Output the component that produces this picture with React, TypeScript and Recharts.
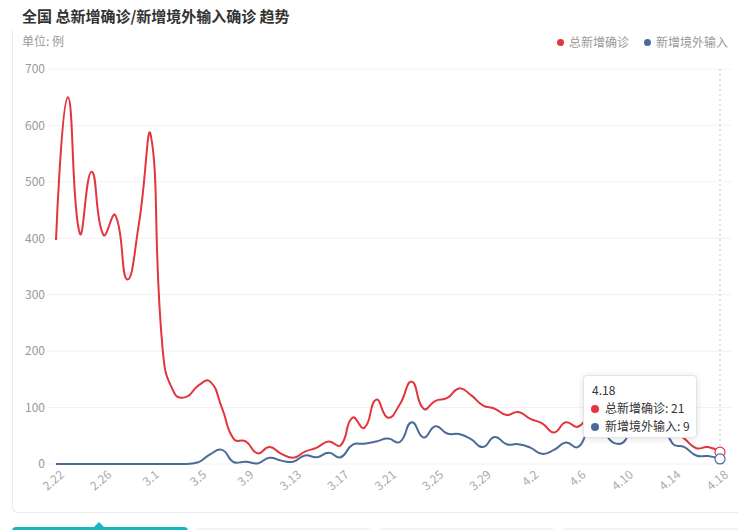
import React from 'react';
import { LineChart, Line, XAxis, YAxis, CartesianGrid, Tooltip } from 'recharts';

const FONT = '"Noto Sans CJK SC", "Noto Sans", sans-serif';
const RED = '#e2353d';
const BLUE = '#4a6b9a';

const dates = [
  '2.22', '2.23', '2.24', '2.25', '2.26', '2.27', '2.28', '2.29',
  '3.1', '3.2', '3.3', '3.4', '3.5', '3.6', '3.7', '3.8', '3.9', '3.10',
  '3.11', '3.12', '3.13', '3.14', '3.15', '3.16', '3.17', '3.18', '3.19', '3.20',
  '3.21', '3.22', '3.23', '3.24', '3.25', '3.26', '3.27', '3.28', '3.29', '3.30', '3.31',
  '4.1', '4.2', '4.3', '4.4', '4.5', '4.6', '4.7', '4.8', '4.9', '4.10',
  '4.11', '4.12', '4.13', '4.14', '4.15', '4.16', '4.17', '4.18',
];

const totalNew = [
  397, 650, 409, 518, 406, 441, 327, 427,
  582, 202, 125, 119, 139, 146, 99, 44, 40, 19,
  30, 18, 11, 22, 29, 40, 33, 82, 64, 114,
  82, 106, 146, 98, 112, 117, 134, 122, 104, 98, 87,
  92, 80, 72, 56, 74, 66, 85, 88, 70, 75,
  120, 130, 110, 62, 45, 28, 30, 21,
];

const importedNew = [
  0, 0, 0, 0, 0, 0, 0, 0,
  0, 0, 0, 0, 3, 17, 25, 3, 4, 1,
  11, 6, 4, 15, 12, 20, 12, 34, 36, 40,
  45, 39, 74, 47, 67, 54, 53, 44, 30, 48, 35,
  35, 29, 18, 25, 38, 30, 59, 61, 38, 42,
  97, 98, 86, 36, 30, 15, 14, 9,
];

const yTicks = [0, 100, 200, 300, 400, 500, 600, 700];

const rows = dates.map((date, i) => ({ date, total: totalNew[i], imported: importedNew[i] }));

// echarts 4 style smoothing (smooth: true -> 0.5, bbox constraint)
const echartsSmooth = (ctx: any) => {
  let pts: number[][] = [];
  const s = 0.5;
  return {
    areaStart() {},
    areaEnd() {},
    lineStart() {
      pts = [];
    },
    point(x: number, y: number) {
      pts.push([+x, +y]);
    },
    lineEnd() {
      const n = pts.length;
      if (!n) return;
      let minX = Infinity, minY = Infinity, maxX = -Infinity, maxY = -Infinity;
      pts.forEach(([x, y]) => {
        minX = Math.min(minX, x); maxX = Math.max(maxX, x);
        minY = Math.min(minY, y); maxY = Math.max(maxY, y);
      });
      const clamp = (p: number[]) => [
        Math.max(minX, Math.min(maxX, p[0])),
        Math.max(minY, Math.min(maxY, p[1])),
      ];
      ctx.moveTo(pts[0][0], pts[0][1]);
      let cp0 = [pts[0][0], pts[0][1]];
      let v = [0, 0];
      for (let i = 1; i < n; i++) {
        const p = pts[i];
        const prev = pts[i - 1];
        const next = pts[i + 1];
        let cp1 = [p[0], p[1]];
        let ratio = 0.5;
        if (next) {
          v = [next[0] - prev[0], next[1] - prev[1]];
          const d0 = Math.hypot(p[0] - prev[0], p[1] - prev[1]);
          const d1 = Math.hypot(next[0] - p[0], next[1] - p[1]);
          ratio = d0 + d1 > 0 ? d1 / (d0 + d1) : 0.5;
          cp1 = [p[0] - v[0] * s * (1 - ratio), p[1] - v[1] * s * (1 - ratio)];
        }
        const a = clamp(cp0);
        const b = clamp(cp1);
        ctx.bezierCurveTo(a[0], a[1], b[0], b[1], p[0], p[1]);
        cp0 = [p[0] + v[0] * s * ratio, p[1] + v[1] * s * ratio];
      }
    },
  };
};

const XTick = ({ x, payload }: any) => (
  <g transform={`translate(${x + 9},${476})`}>
    <text textAnchor="end" transform="rotate(-40)" fill="#aaa" fontSize={12} fontFamily={FONT}>
      {payload.value}
    </text>
  </g>
);

const Dot = ({ color }: { color: string }) => (
  <span
    style={{
      display: 'inline-block',
      width: 7,
      height: 7,
      borderRadius: '50%',
      background: color,
      marginRight: 5,
      verticalAlign: 'middle',
      position: 'relative',
      top: -1,
    }}
  />
);

const TipBox = ({ active, payload, label }: any) => {
  if (!active || !payload || !payload.length) return null;
  return (
    <div
      style={{
        width: 114,
        height: 63,
        boxSizing: 'border-box',
        background: '#fff',
        border: '1px solid #e4e4e4',
        borderRadius: 4,
        boxShadow: '0 1px 6px rgba(0,0,0,0.12)',
        padding: '5px 0 0 7px',
        fontSize: 12,
        lineHeight: '18px',
        color: '#333',
        fontFamily: FONT,
        whiteSpace: 'nowrap',
      }}
    >
      <div style={{ paddingLeft: 1 }}>{label}</div>
      {payload.map((p: any) => (
        <div key={p.dataKey}>
          <span
            style={{
              display: 'inline-block',
              width: 8,
              height: 8,
              borderRadius: '50%',
              background: p.color,
              marginRight: 6,
              verticalAlign: 'middle',
              position: 'relative',
              top: -1,
            }}
          />
          {p.name}: {p.value}
        </div>
      ))}
    </div>
  );
};

export default function App() {
  return (
    <div
      style={{
        position: 'absolute',
        left: 0,
        top: 0,
        width: 738,
        height: 530,
        background: '#fff',
        overflow: 'hidden',
        fontFamily: FONT,
      }}
    >
      <div
        style={{
          position: 'absolute',
          left: 12,
          top: 30,
          width: 740,
          height: 483,
          boxSizing: 'border-box',
          borderLeft: '1px solid #ececec',
          borderBottom: '1px solid #ececec',
          borderBottomLeftRadius: 6,
        }}
      />
      <div style={{ position: 'absolute', left: 22, top: 5, fontSize: 15, fontWeight: 700, color: '#333', lineHeight: '22px' }}>
        全国 总新增确诊/新增境外输入确诊 趋势
      </div>
      <div style={{ position: 'absolute', left: 22, top: 32, fontSize: 12, color: '#999', lineHeight: '18px' }}>
        单位: 例
      </div>
      <div style={{ position: 'absolute', right: 10, top: 33, fontSize: 12, color: '#999', lineHeight: '18px', whiteSpace: 'nowrap' }}>
        <Dot color={RED} />
        总新增确诊
        <span style={{ display: 'inline-block', width: 15 }} />
        <Dot color={BLUE} />
        新增境外输入
      </div>

      <div style={{ position: 'absolute', left: 0, top: 0 }}>
        <LineChart width={738} height={530} data={rows} margin={{ top: 69, right: 6, bottom: 0, left: 0 }}>
          <CartesianGrid vertical={false} stroke="#f2f2f2" />
          <XAxis
            dataKey="date"
            interval={3}
            tickLine={false}
            axisLine={false}
            tickSize={0}
            tickMargin={0}
            height={66}
            padding={{ left: 8, right: 12 }}
            tick={<XTick />}
          />
          <YAxis
            domain={[0, 700]}
            ticks={yTicks}
            width={48}
            tickLine={false}
            axisLine={false}
            tickSize={0}
            tickMargin={3}
            tick={{ fill: '#999', fontSize: 12, fontFamily: FONT }}
          />
          <Tooltip
            content={<TipBox />}
            defaultIndex={56}
            active={true}
            position={{ x: 583, y: 375 }}
            cursor={{ stroke: '#c4c4c4', strokeWidth: 1, strokeDasharray: '2 3' }}
            isAnimationActive={false}
          />
          <Line
            type={echartsSmooth as any}
            dataKey="total"
            name="总新增确诊"
            stroke={RED}
            strokeWidth={2}
            dot={false}
            activeDot={{ r: 5, fill: '#fff', stroke: RED, strokeWidth: 1.2 }}
            isAnimationActive={false}
          />
          <Line
            type={echartsSmooth as any}
            dataKey="imported"
            name="新增境外输入"
            stroke={BLUE}
            strokeWidth={2}
            dot={false}
            activeDot={{ r: 5, fill: '#fff', stroke: BLUE, strokeWidth: 1.2 }}
            isAnimationActive={false}
          />
        </LineChart>
      </div>

      <div style={{ position: 'absolute', left: 12, top: 527, width: 176, height: 10, background: '#1bb5c1', borderRadius: '4px 4px 0 0' }} />
      <div
        style={{
          position: 'absolute',
          left: 94,
          top: 522,
          width: 0,
          height: 0,
          borderLeft: '5px solid transparent',
          borderRight: '5px solid transparent',
          borderBottom: '5px solid #1bb5c1',
        }}
      />
      <div style={{ position: 'absolute', left: 195, top: 528, width: 177, height: 10, background: '#f3f4f6', borderRadius: '4px 4px 0 0' }} />
      <div style={{ position: 'absolute', left: 379, top: 528, width: 176, height: 10, background: '#f3f4f6', borderRadius: '4px 4px 0 0' }} />
      <div style={{ position: 'absolute', left: 562, top: 528, width: 180, height: 10, background: '#f3f4f6', borderRadius: '4px 4px 0 0' }} />
    </div>
  );
}
